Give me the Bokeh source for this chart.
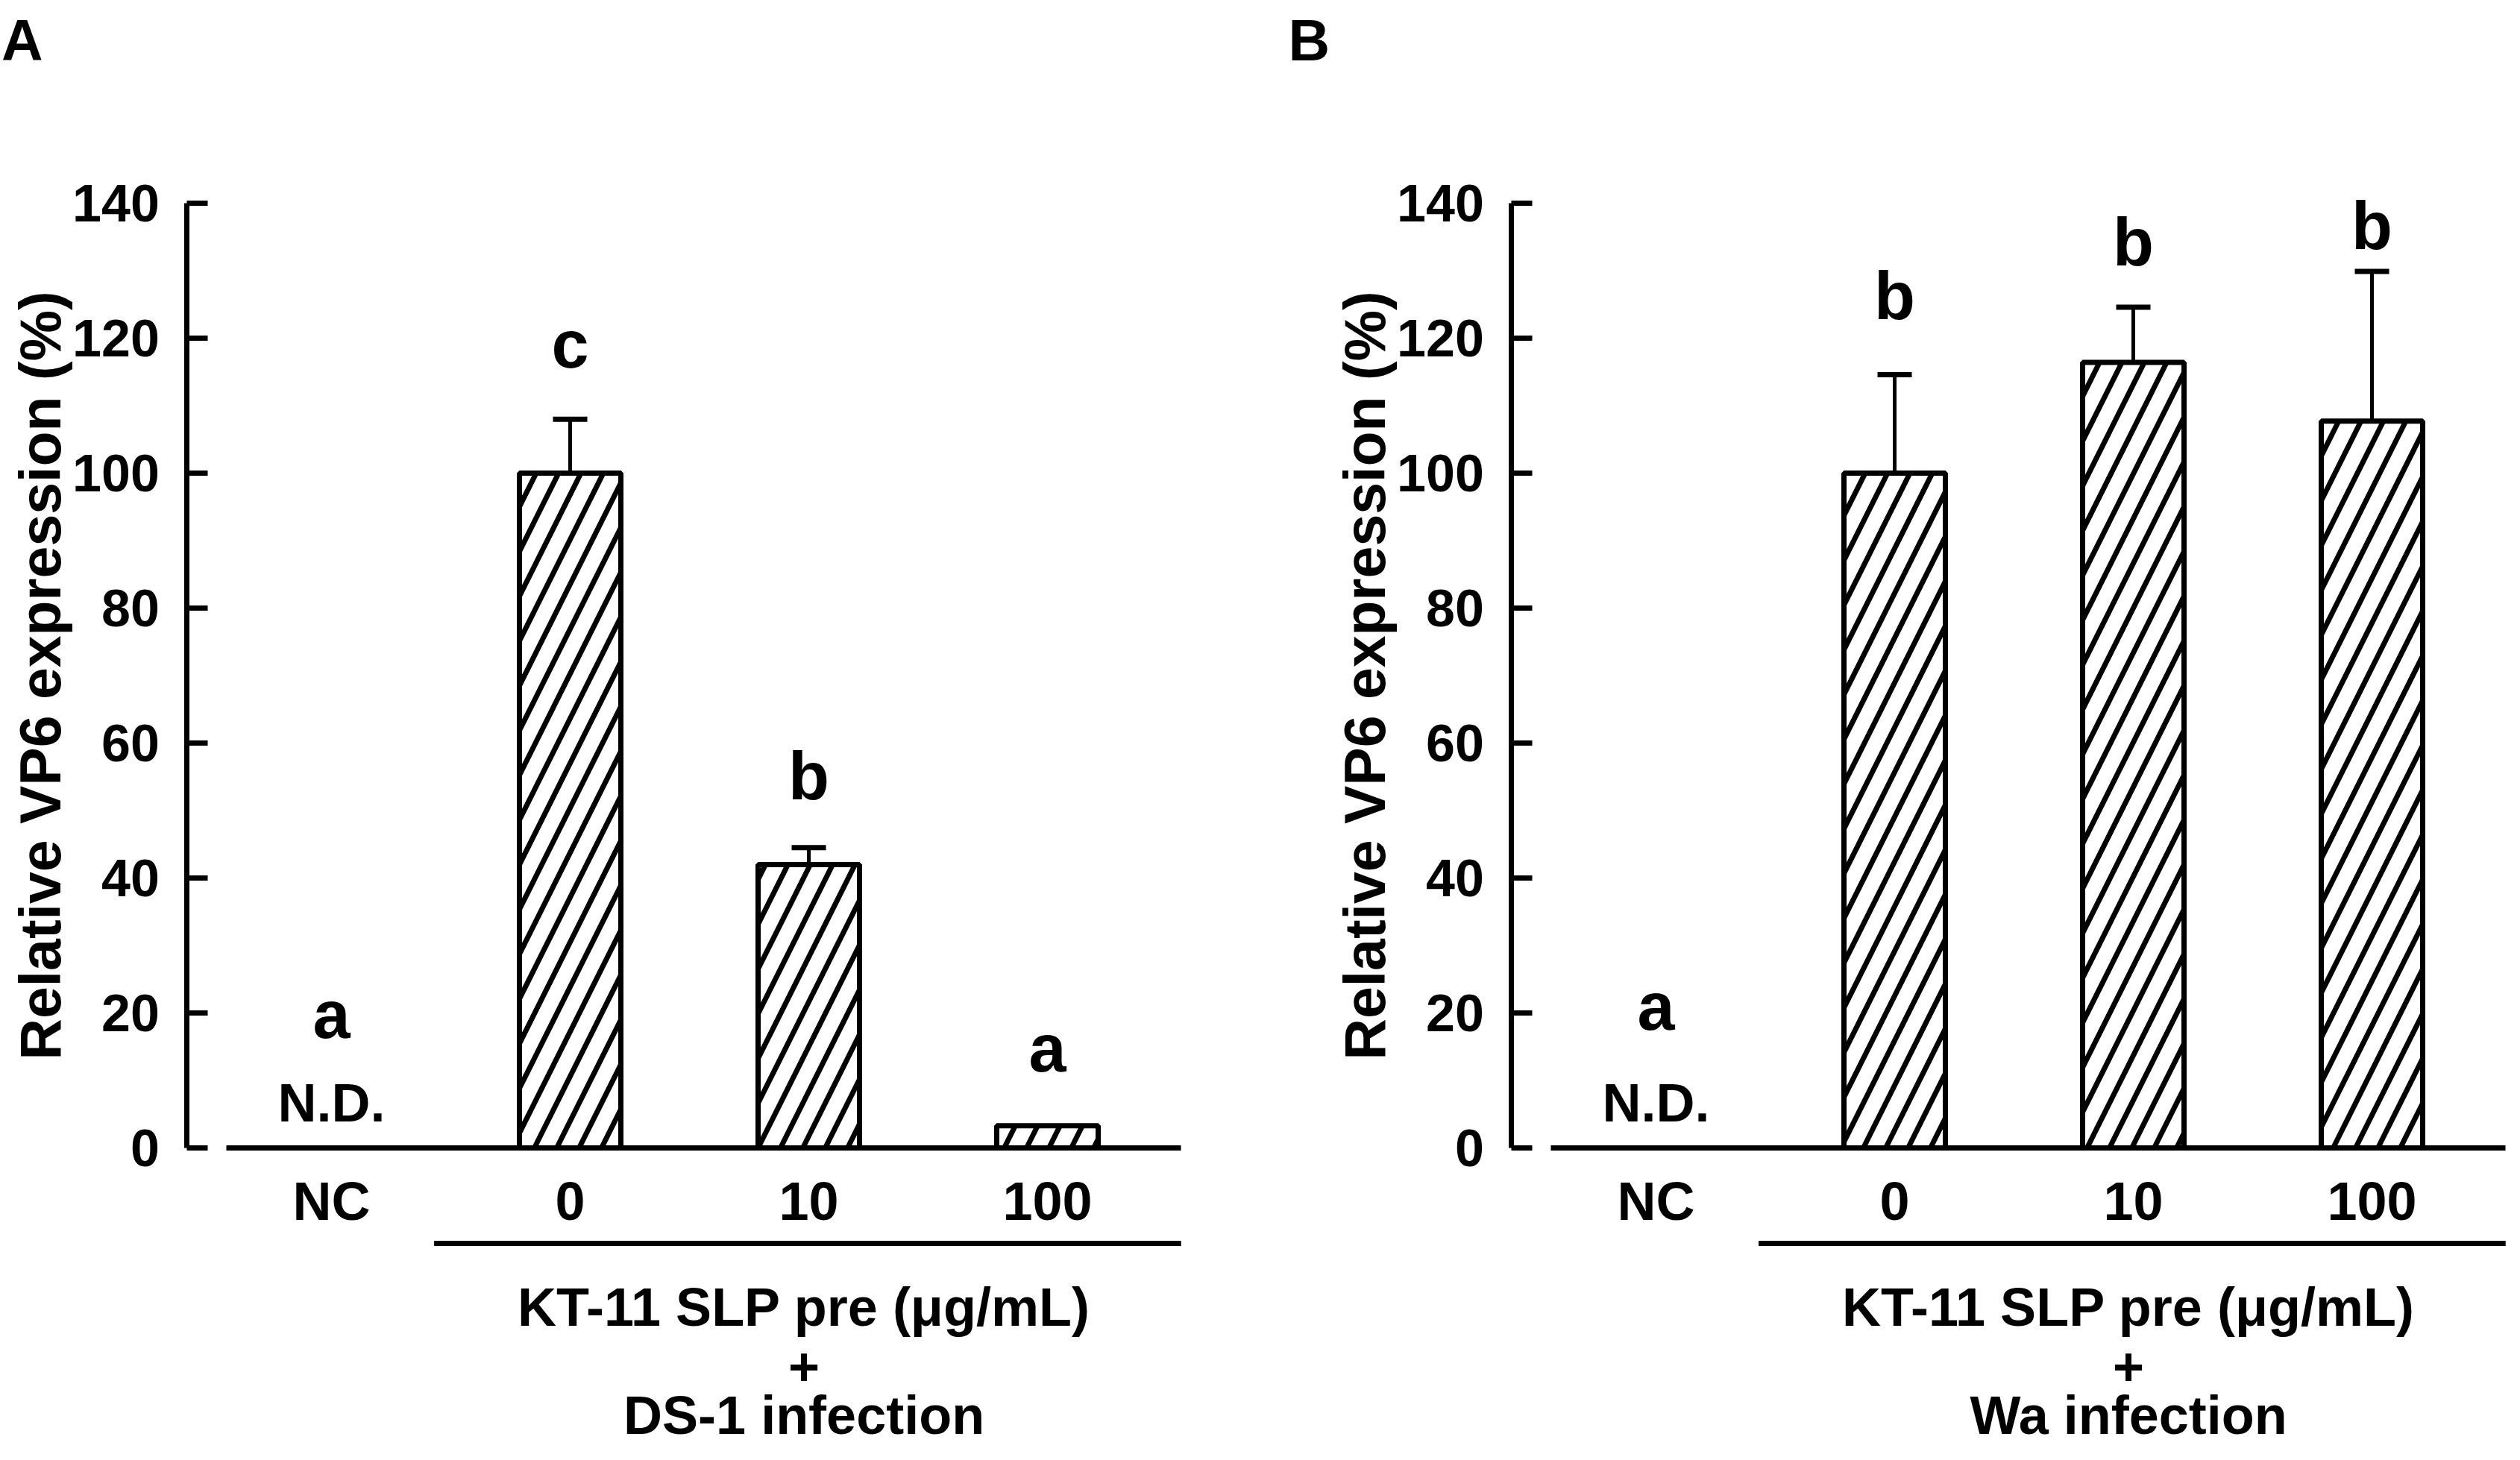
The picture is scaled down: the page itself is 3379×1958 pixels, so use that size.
import math
from bokeh.plotting import figure
from bokeh.models import (Range1d, FixedTicker, Whisker, TeeHead,
                          ColumnDataSource)
from bokeh.layouts import row
from bokeh.embed import file_html
from bokeh.resources import INLINE
from bokeh.core.properties import value

# ---------------- data ----------------
categories = ["NC", "0", "10", "100"]

ds1_mean = [None, 100.0, 42.0, 3.3]
ds1_upper = [None, 108.0, 44.5, None]
ds1_lower = [None, 90.4, 39.5, None]
ds1_letters = ["a", "c", "b", "a"]
ds1_letter_y = [19.7, 119.1, 55.1, 14.8]

wa_mean = [None, 100.0, 116.4, 107.7]
wa_upper = [None, 114.6, 124.6, 129.9]
wa_lower = [None, 85.5, 107.4, 84.0]
wa_letters = ["a", "b", "b", "b"]
wa_letter_y = [20.9, 126.3, 134.2, 136.6]

nd_label = "N.D."
nd_y = 6.65
y_ticks = [0, 20, 40, 60, 80, 100, 120, 140]
y_title = "Relative VP6 expression (%)"
treat_text = "KT-11 SLP pre (μg/mL)"
plus_text = "+"
ds1_infection = "DS-1 infection"
wa_infection = "Wa infection"

FONT = "Liberation Sans"
LW = 7
FIG_H = 1942
Y_RANGE = (-44.53, 170.06)
Y_AXIS_X = 0.395
BASE_BOUNDS = (0.56, 4.56)
BRACKET = (1.43, 4.56)
BRACKET_Y = -14.15
TEXT_X = 2.98
TEXT_Y = [-23.54, -32.38, -39.6]
YLABEL_X = -0.22
YLABEL_Y = 70
PANEL_Y = 164.1


def make_panel(width, x_range, means, uppers, lowers, letters, letter_y,
               infection, panel_letter, panel_x):
    p = figure(width=width, height=FIG_H, output_backend="svg",
               toolbar_location=None, x_range=Range1d(*x_range),
               y_range=Range1d(*Y_RANGE), min_border=0,
               min_border_left=0, min_border_right=0, min_border_top=0,
               min_border_bottom=0)
    p.outline_line_color = None
    p.grid.visible = False
    p.background_fill_color = "white"
    p.border_fill_color = "white"

    xs = [i + 1 for i in range(len(categories))]

    # bars
    bx = [x for x, m in zip(xs, means) if m is not None]
    bt = [m for m in means if m is not None]
    p.vbar(x=bx, top=bt, width=0.425, bottom=0, fill_color="white",
           line_color="black", line_width=LW, hatch_pattern="/",
           hatch_color="black", hatch_scale=60, hatch_weight=7)

    # error bars
    ex = [x for x, u in zip(xs, uppers) if u is not None]
    eu = [u for u in uppers if u is not None]
    el = [l for l in lowers if l is not None]
    src = ColumnDataSource(dict(x=ex, upper=eu, lower=el))
    w = Whisker(source=src, base="x", upper="upper", lower="lower",
                line_width=5, line_color="black",
                upper_head=TeeHead(size=46, line_width=7, line_color="black"),
                lower_head=TeeHead(size=46, line_width=7, line_color="black"))
    p.add_layout(w)

    txt = dict(text_align="center", text_baseline="middle",
               text_font=value(FONT), text_font_style="bold",
               text_color="black")

    # significance letters and N.D.
    p.text(x=xs, y=letter_y, text=letters, text_font_size="90px", **txt)
    p.text(x=[xs[0]], y=[nd_y], text=[nd_label], text_font_size="72px", **txt)

    # y axis at a fixed location
    ya = p.yaxis[0]
    ya.fixed_location = Y_AXIS_X
    ya.bounds = (0, 140)
    ya.ticker = FixedTicker(ticks=y_ticks, minor_ticks=[])
    ya.axis_line_width = LW
    ya.major_tick_line_width = LW
    ya.major_tick_in = 28
    ya.major_tick_out = 0
    ya.minor_tick_line_color = None
    ya.major_label_standoff = 37
    ya.major_label_text_font = FONT
    ya.major_label_text_font_style = "bold"
    ya.major_label_text_font_size = "70px"
    ya.major_label_text_color = "black"

    # y title
    p.text(x=[YLABEL_X], y=[YLABEL_Y], text=[y_title], angle=math.pi / 2,
           text_font_size="77px", **txt)

    # x axis (baseline + category labels) at value 0
    xa = p.xaxis[0]
    xa.fixed_location = 0
    xa.bounds = BASE_BOUNDS
    xa.ticker = FixedTicker(ticks=xs, minor_ticks=[])
    xa.major_label_overrides = {x: c for x, c in zip(xs, categories)}
    xa.axis_line_width = LW
    xa.major_tick_in = 0
    xa.major_tick_out = 0
    xa.minor_tick_line_color = None
    xa.major_label_standoff = 31
    xa.major_label_text_font = FONT
    xa.major_label_text_font_style = "bold"
    xa.major_label_text_font_size = "72px"
    xa.major_label_text_color = "black"

    # treatment bracket and its texts
    p.segment(x0=[BRACKET[0]], x1=[BRACKET[1]], y0=[BRACKET_Y],
              y1=[BRACKET_Y], line_width=LW, line_color="black")
    p.text(x=[TEXT_X] * 3, y=TEXT_Y, text=[treat_text, plus_text, infection],
           text_font_size="72px", **txt)

    # panel letter
    p.text(x=[panel_x], y=[PANEL_Y], text=[panel_letter],
           text_align="left", text_baseline="middle", text_font=value(FONT),
           text_font_style="bold", text_font_size="77px", text_color="black")
    return p


p1 = make_panel(1692, (-0.3875, 4.9), ds1_mean, ds1_upper, ds1_lower,
                ds1_letters, ds1_letter_y, ds1_infection, "A", -0.3825)
p2 = make_panel(1669, (-0.65, 4.5656), wa_mean, wa_upper, wa_lower,
                wa_letters, wa_letter_y, wa_infection, "B", -0.5406)

layout = row(p1, p2)
open("out.html", "w").write(file_html(layout, INLINE))
